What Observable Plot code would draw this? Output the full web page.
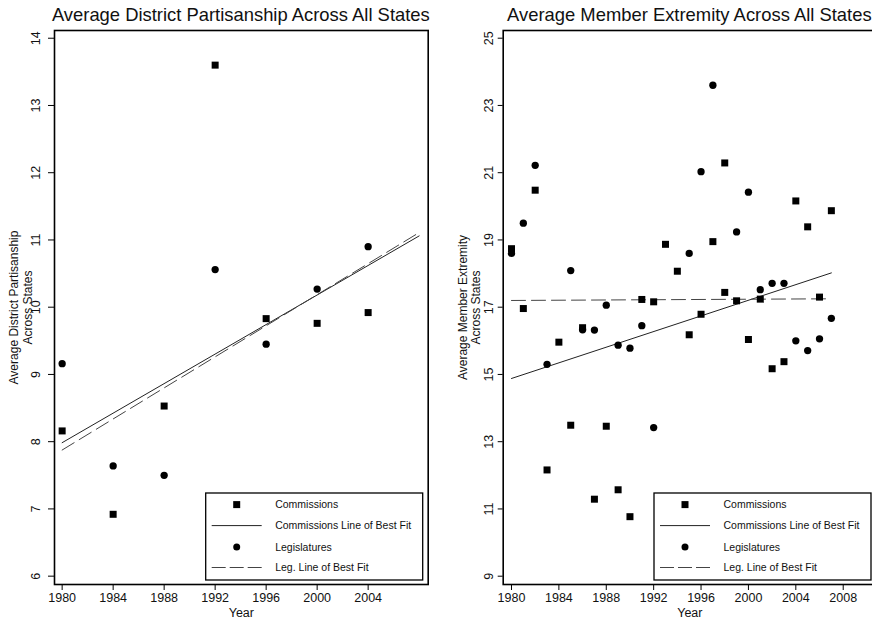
<!DOCTYPE html>
<html><head><meta charset="utf-8">
<script src="https://cdn.jsdelivr.net/npm/d3@7"></script>
<script src="https://cdn.jsdelivr.net/npm/@observablehq/plot@0.6"></script>
<style>
body{margin:0;background:#fff;overflow:hidden}
#wrap{position:relative;width:872px;height:619px;overflow:hidden;background:#fff}
#wrap svg{position:absolute;top:0}
</style></head><body><div id="wrap"></div>
<script>
// ---- Left panel: Average District Partisanship ----
const leftComYears = [1980, 1984, 1988, 1992, 1996, 2000, 2004];
const leftComValues = [8.16, 6.92, 8.53, 13.6, 9.83, 9.76, 9.92];
const leftLegYears = [1980, 1984, 1988, 1992, 1996, 2000, 2004];
const leftLegValues = [9.16, 7.64, 7.5, 10.56, 9.45, 10.27, 10.9];
const leftFitYears = [1980, 2008];
const leftComFitValues = [7.985, 11.06];
const leftLegFitValues = [7.876, 11.11];
const leftXTicks = [1980, 1984, 1988, 1992, 1996, 2000, 2004];
const leftYTicks = [6, 7, 8, 9, 10, 11, 12, 13, 14];

// ---- Right panel: Average Member Extremity ----
const rightComYears = [1980, 1981, 1982, 1983, 1984, 1985, 1986, 1987, 1988, 1989, 1990, 1991, 1992, 1993, 1994, 1995, 1996, 1997, 1998, 1998, 1999, 2000, 2001, 2002, 2003, 2004, 2005, 2006, 2007];
const rightComValues = [18.74, 16.96, 20.48, 12.16, 15.96, 13.49, 16.39, 11.29, 13.46, 11.57, 10.77, 17.23, 17.16, 18.87, 18.07, 16.18, 16.79, 18.95, 21.29, 17.44, 17.19, 16.04, 17.24, 15.17, 15.38, 20.16, 19.39, 17.3, 19.87];
const rightLegYears = [1980, 1981, 1982, 1983, 1985, 1986, 1987, 1988, 1989, 1990, 1991, 1992, 1995, 1996, 1997, 1999, 2000, 2001, 2002, 2003, 2004, 2005, 2006, 2007];
const rightLegValues = [18.6, 19.5, 21.22, 15.3, 18.09, 16.33, 16.32, 17.06, 15.87, 15.78, 16.45, 13.42, 18.6, 21.03, 23.6, 19.24, 20.42, 17.52, 17.71, 17.71, 16.0, 15.71, 16.06, 16.67];
const rightFitYears = [1980, 2007];
const rightComFitValues = [14.88, 18.02];
const rightLegFitValues = [17.2, 17.25];
const rightXTicks = [1980, 1984, 1988, 1992, 1996, 2000, 2004, 2008];
const rightYTicks = [9, 11, 13, 15, 17, 19, 21, 23, 25];

const legendLabels = ["Commissions", "Commissions Line of Best Fit", "Legislatures", "Leg. Line of Best Fit"];
const FONT = '"Liberation Sans", Arial, Helvetica, sans-serif';

const zip = (xs, ys) => xs.map((x, i) => ({x, y: ys[i]}));

function panel(cfg) {
  const svg = Plot.plot({
    width: cfg.width, height: 619,
    marginLeft: cfg.marginLeft, marginRight: cfg.marginRight, marginTop: 30, marginBottom: 35,
    x: {domain: cfg.xDomain},
    y: {domain: cfg.yDomain},
    style: {fontFamily: FONT, color: "#111", background: "transparent", overflow: "visible"},
    marks: [
      Plot.frame({stroke: "#000", strokeWidth: 1.6}),
      Plot.axisX({ticks: cfg.xTicks, tickSize: 6, tickPadding: 3, tickFormat: d => String(d), label: null, fontSize: 12.5, stroke: "#000"}),
      Plot.axisY({ticks: cfg.yTicks, tickSize: cfg.yTickSize, tickFormat: () => "", label: null, stroke: "#000"}),
      Plot.text(cfg.yTicks, {y: d => d, text: d => String(d), frameAnchor: "left", dx: cfg.yLabelDx, rotate: -90, textAnchor: "middle", lineAnchor: "middle", fontSize: 12.5, fill: "#111"}),
      Plot.line(zip(cfg.fitYears, cfg.comFit), {x: "x", y: "y", stroke: "#222", strokeWidth: 1}),
      Plot.line(zip(cfg.fitYears, cfg.legFit), {x: "x", y: "y", stroke: "#444", strokeWidth: 1, strokeDasharray: "14,6"}),
      Plot.dot(zip(cfg.comYears, cfg.comValues), {x: "x", y: "y", symbol: "square", r: 3.95, fill: "#000", stroke: "none"}),
      Plot.dot(zip(cfg.legYears, cfg.legValues), {x: "x", y: "y", symbol: "circle", r: 3.65, fill: "#000", stroke: "none"}),
      Plot.text(["Year"], {frameAnchor: "bottom", dy: 24, lineAnchor: "top", fontSize: 12.5, fill: "#111"}),
      Plot.text([cfg.yLabel], {frameAnchor: "left", dx: -34, rotate: -90, textAnchor: "middle", lineAnchor: "middle", lineHeight: 1.12, fontSize: 12, fill: "#111"})
    ]
  });
  const s = d3.select(svg);
  const fL = cfg.marginLeft, fR = cfg.width - cfg.marginRight, fB = 619 - 35;
  // title
  s.append("text").attr("x", (fL + fR) / 2).attr("y", 20.7).attr("text-anchor", "middle")
    .attr("font-size", 18.4).attr("font-family", FONT).attr("fill", "#111").text(cfg.title);
  // legend
  const bw = 217, bh = 87, bx = fR - 5 - bw, by = fB - 4 - bh;
  const g = s.append("g").attr("font-family", FONT).attr("text-anchor", "start");
  g.append("rect").attr("x", bx).attr("y", by).attr("width", bw).attr("height", bh)
    .attr("fill", "#fff").attr("stroke", "#000").attr("stroke-width", 1.3);
  const rows = [11.6, 32.6, 54, 74.5];
  g.append("rect").attr("x", bx + 31 - 3.5).attr("y", by + rows[0] - 3.5).attr("width", 7).attr("height", 7).attr("fill", "#000");
  g.append("line").attr("x1", bx + 6).attr("x2", bx + 56).attr("y1", by + rows[1]).attr("y2", by + rows[1]).attr("stroke", "#222");
  g.append("circle").attr("cx", bx + 31).attr("cy", by + rows[2]).attr("r", 3.5).attr("fill", "#000");
  g.append("line").attr("x1", bx + 6).attr("x2", bx + 56).attr("y1", by + rows[3]).attr("y2", by + rows[3]).attr("stroke", "#444").attr("stroke-dasharray", "14,4");
  legendLabels.forEach((t, i) => {
    g.append("text").attr("x", bx + 69.5).attr("y", by + rows[i]).attr("dy", "0.35em")
      .attr("text-anchor", "start").attr("font-size", 10.5).attr("fill", "#111").text(t);
  });
  svg.style.left = cfg.left + "px";
  return svg;
}

const wrap = document.getElementById("wrap");
wrap.appendChild(panel({
  left: 0, width: 440, marginLeft: 54, marginRight: 12.3,
  xDomain: [1979.40, 2008.71], yDomain: [5.876, 14.115],
  xTicks: leftXTicks, yTicks: leftYTicks, yTickSize: 6, yLabelDx: -19,
  comYears: leftComYears, comValues: leftComValues, legYears: leftLegYears, legValues: leftLegValues,
  fitYears: leftFitYears, comFit: leftComFitValues, legFit: leftLegFitValues,
  title: "Average District Partisanship Across All States",
  yLabel: "Average District Partisanship\nAcross States"
}));
wrap.appendChild(panel({
  left: 440, width: 436, marginLeft: 62.7, marginRight: 0,
  xDomain: [1979.30, 2010.81], yDomain: [8.753, 25.229],
  xTicks: rightXTicks, yTicks: rightYTicks, yTickSize: 5, yLabelDx: -14.5,
  comYears: rightComYears, comValues: rightComValues, legYears: rightLegYears, legValues: rightLegValues,
  fitYears: rightFitYears, comFit: rightComFitValues, legFit: rightLegFitValues,
  title: "Average Member Extremity Across All States",
  yLabel: "Average Member Extremity\nAcross States"
}));
</script></body></html>
